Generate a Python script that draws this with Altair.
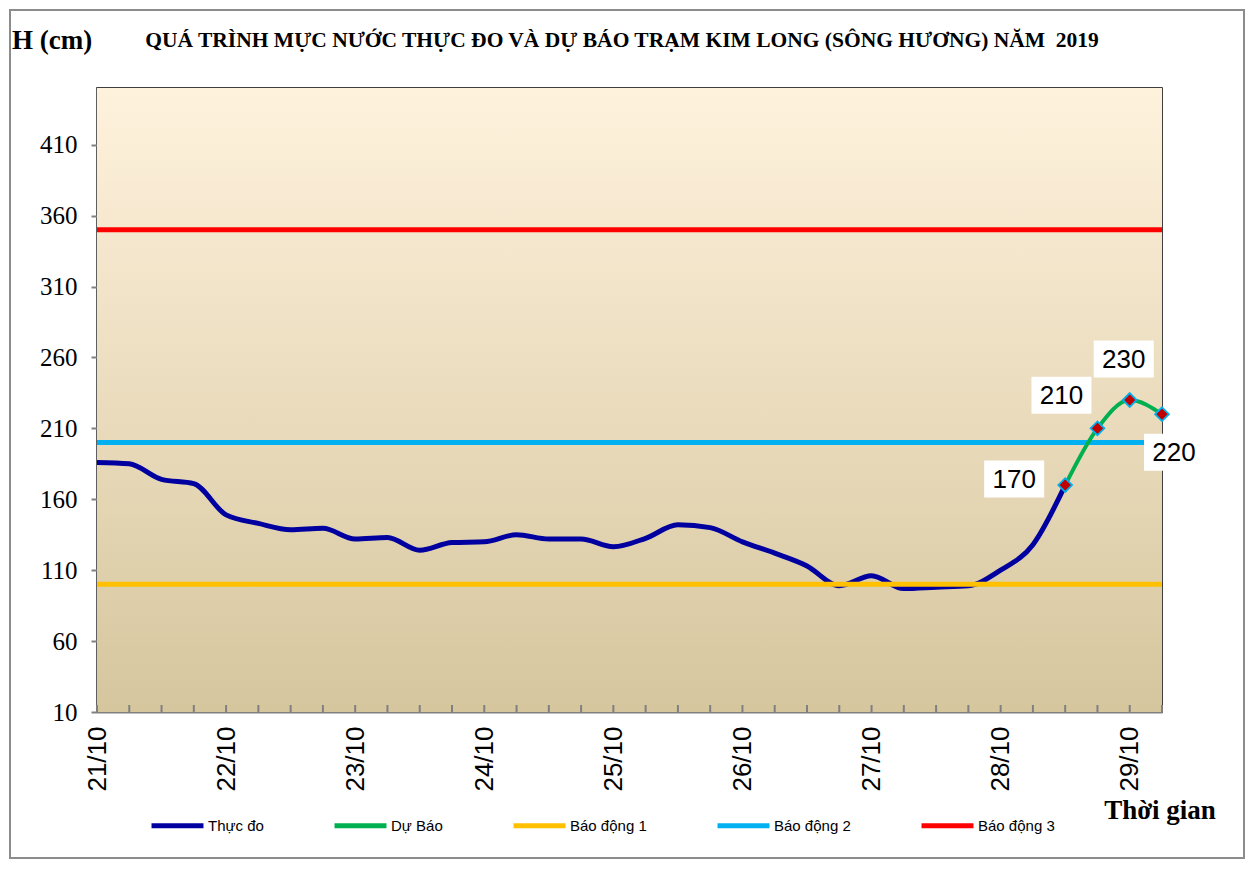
import altair as alt
import pandas as pd

# ---------------- data ----------------
obs_times = pd.date_range("2019-10-21 00:00", periods=31, freq="6h")
obs_values = [186, 185, 174, 171, 149, 143, 138.5, 139.5, 132, 133, 124, 129.5,
              130, 135, 132, 132, 126.5, 132.5, 142, 140, 130, 122, 113, 99,
              106, 97, 98, 99, 110, 128, 170]
fc_times = pd.date_range("2019-10-28 12:00", periods=4, freq="6h")
fc_values = [170, 210, 230, 220]
alarm_names = ["Báo động 1", "Báo động 2", "Báo động 3"]
alarm_levels = [100, 200, 350]
x_start = "2019-10-21 00:00"
x_end = "2019-10-29 06:00"
series_names = ["Thực đo", "Dự Báo", "Báo động 1", "Báo động 2", "Báo động 3"]
series_colors = ["#0000A0", "#00B050", "#FFC000", "#00B0F0", "#FF0000"]
y_ticks = [10, 60, 110, 160, 210, 260, 310, 360, 410]
day_ticks = list(range(21, 30))
minor_ticks = pd.date_range(x_start, x_end, freq="6h")

title_text = "QUÁ TRÌNH MỰC NƯỚC THỰC ĐO VÀ DỰ BÁO TRẠM KIM LONG (SÔNG HƯƠNG) NĂM\u00a0 2019"

# ---------------- layout / style ----------------
W, H = 1065, 624
label_dx = [-51, -36, -6, 12]
label_dy = [-6, -33, -41, 38]

obs_df = pd.DataFrame({"time": obs_times, "value": obs_values, "series": "Thực đo"})
fc_df = pd.DataFrame({"time": fc_times, "value": fc_values, "series": "Dự Báo"})
alarm_rows = []
for n, lv in zip(alarm_names, alarm_levels):
    alarm_rows.append({"time": pd.Timestamp(x_start), "value": lv, "series": n})
    alarm_rows.append({"time": pd.Timestamp(x_end), "value": lv, "series": n})
alarm_df = pd.DataFrame(alarm_rows)
tick_df = pd.DataFrame({"time": minor_ticks})
one = pd.DataFrame({"a": [0]})

x_scale = alt.Scale(domain=[alt.DateTime(year=2019, month=10, date=21, hours=0),
                            alt.DateTime(year=2019, month=10, date=29, hours=6)])
x_axis = alt.Axis(values=[alt.DateTime(year=2019, month=10, date=d) for d in day_ticks],
                  format="%d/%m", labelAngle=270, labelFont="Liberation Sans",
                  labelFontSize=26, labelColor="black", labelPadding=14,
                  labelFlush=False, tickSize=0, grid=False, title=None,
                  domainColor="#808080", domainWidth=2, labelOverlap=False)
y_scale = alt.Scale(domain=[10, 450], nice=False, zero=False)
y_axis = alt.Axis(values=y_ticks, labelFont="Liberation Serif", labelFontSize=25,
                  labelColor="black", labelPadding=14, tickSize=6, tickColor="#808080",
                  tickWidth=2, grid=False, title=None, domainColor="#808080",
                  domainWidth=2)

X = alt.X("time:T", scale=x_scale, axis=x_axis)
Y = alt.Y("value:Q", scale=y_scale, axis=y_axis)
color = alt.Color("series:N",
                  scale=alt.Scale(domain=series_names, range=series_colors),
                  legend=alt.Legend(orient="none", legendX=52, legendY=709,
                                    direction="horizontal", title=None,
                                    symbolType="stroke", symbolSize=2700,
                                    symbolStrokeWidth=5, labelFont="Liberation Sans",
                                    labelFontSize=15, labelColor="black",
                                    columnPadding=60, labelOffset=2))

background = alt.Chart(one).mark_rect(
    fill=alt.Gradient(gradient="linear",
                      stops=[alt.GradientStop(color="#FFF2DD", offset=0),
                             alt.GradientStop(color="#D6C69E", offset=1)],
                      x1=0, x2=0, y1=0, y2=1)
).encode(x=alt.value(0), x2=alt.value(W), y=alt.value(0), y2=alt.value(H))

border = alt.Chart(one).mark_rect(filled=False, stroke="#8C8C8C", strokeWidth=2).encode(
    x=alt.value(-87), x2=alt.value(W + 82), y=alt.value(-78), y2=alt.value(H + 146))

minor = alt.Chart(tick_df).mark_rule(color="#808080", strokeWidth=2).encode(
    x=alt.X("time:T", scale=x_scale, axis=x_axis), y=alt.value(H - 7), y2=alt.value(H))

obs_line = alt.Chart(obs_df).mark_line(strokeWidth=5, interpolate="monotone").encode(
    x=X, y=Y, color=color)
alarm_line = alt.Chart(alarm_df).mark_line(strokeWidth=5).encode(
    x=X, y=Y, color=color, detail="series:N")
fc_line = alt.Chart(fc_df).mark_line(strokeWidth=4, interpolate="monotone").encode(
    x=X, y=Y, color=color)
fc_pts = alt.Chart(fc_df).mark_point(shape="diamond", size=190, filled=True,
                                     fill="#C00000", stroke="#00B0F0",
                                     strokeWidth=1.8, opacity=1).encode(x=X, y=Y)

label_layers = []
box_shape = "M-1,-0.617H1V0.617H-1Z"
for i in range(len(fc_values)):
    d = fc_df.iloc[[i]].copy()
    d["label"] = str(fc_values[i])
    box = alt.Chart(d).mark_point(shape=box_shape, size=3600, filled=True,
                                  fill="white", strokeWidth=0, opacity=1,
                                  xOffset=label_dx[i], yOffset=label_dy[i]).encode(x=X, y=Y)
    txt = alt.Chart(d).mark_text(font="Liberation Sans", fontSize=26, color="black",
                                 dx=label_dx[i], dy=label_dy[i] + 1, align="center",
                                 baseline="middle").encode(x=X, y=Y, text="label:N")
    label_layers += [box, txt]

title = alt.Chart(one).mark_text(font="Liberation Serif", fontSize=21.5, fontWeight="bold",
                                 color="black", align="center", baseline="alphabetic").encode(
    x=alt.value(525), y=alt.value(-41), text=alt.value(title_text))
ylab = alt.Chart(one).mark_text(font="Liberation Serif", fontSize=27, fontWeight="bold",
                                color="black", align="left", baseline="alphabetic").encode(
    x=alt.value(-85), y=alt.value(-39), text=alt.value("H (cm)"))
xlab = alt.Chart(one).mark_text(font="Liberation Serif", fontSize=27, fontWeight="bold",
                                color="black", align="center", baseline="alphabetic").encode(
    x=alt.value(1063), y=alt.value(731), text=alt.value("Thời gian"))

chart = alt.layer(background, border, minor, obs_line, alarm_line, fc_line, fc_pts,
                  *label_layers, title, ylab, xlab).properties(
    width=W, height=H,
    autosize=alt.AutoSizeParams(type="none"),
    padding={"left": 89, "top": 80, "right": 84, "bottom": 148},
    background="white",
).configure_view(stroke="black", strokeWidth=1.5)

chart.save("out.html", embed_options={"renderer": "svg", "actions": False})
